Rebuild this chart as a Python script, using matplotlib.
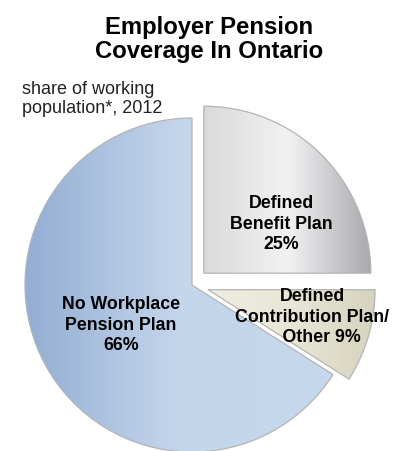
import numpy as np
import matplotlib
matplotlib.use("Agg")
import matplotlib.pyplot as plt
from matplotlib.colors import LinearSegmentedColormap

plt.rcParams['font.family'] = ['Liberation Sans', 'DejaVu Sans']

categories = ["Defined\nBenefit Plan\n25%",
              "Defined\nContribution Plan/\n    Other 9%",
              "No Workplace\nPension Plan\n66%"]
values = [25, 9, 66]
explode = [0.1, 0.1, 0.0]

title = "Employer Pension\nCoverage In Ontario"
subtitle = "share of working\npopulation*, 2012"

# gradient stops (position, colour) per slice
grad_stops = [
    [(0.0, "#dadadc"), (0.5, "#f2f2f3"), (1.0, "#a8a8ad")],
    [(0.0, "#eeede2"), (0.5, "#e8e6d6"), (1.0, "#d6d3bd")],
    [(0.0, "#93aed3"), (0.5, "#c4d6ec"), (1.0, "#c6d8ee")],
]

W, H = 401, 451
fig = plt.figure(figsize=(W / 100, H / 100), dpi=100)
ax = fig.add_axes([0, 0, 1, 1])

cx, cy, R = 192, 285, 167
ax.set_xlim(-cx / R, (W - cx) / R)
ax.set_ylim((cy - H) / R, cy / R)
ax.set_aspect('equal')
ax.axis('off')

wedges, _ = ax.pie(values, explode=explode, startangle=90, counterclock=False,
                   radius=1.0, center=(0, 0),
                   wedgeprops=dict(facecolor='none', edgecolor='#b4b4b4',
                                   linewidth=0.9))

for w, stops in zip(wedges, grad_stops):
    cmap = LinearSegmentedColormap.from_list("g", stops)
    bb = w.get_path().get_extents(w.get_transform()).transformed(ax.transData.inverted())
    x0, y0, x1, y1 = bb.x0, bb.y0, bb.x1, bb.y1
    grad = np.linspace(0, 1, 256).reshape(1, -1)
    im = ax.imshow(grad, cmap=cmap, extent=(x0, x1, y0, y1), aspect='auto',
                   zorder=0.5, interpolation='bicubic')
    im.set_clip_path(w)
    w.set_zorder(1)

ax.set_xlim(-cx / R, (W - cx) / R)
ax.set_ylim((cy - H) / R, cy / R)

label_pos = [(0.533, 0.365), (0.719, -0.192), (-0.425, -0.240)]
for (x, y), lab in zip(label_pos, categories):
    ax.text(x, y, lab, ha='center', va='center', fontsize=12.8, fontweight='bold',
            linespacing=1.24, zorder=3)

fig.text(0.521, 0.912, title, ha='center', va='center', fontsize=17.2,
         fontweight='bold', linespacing=1.05)
fig.text(0.055, 0.780, subtitle, ha='left', va='center', fontsize=13,
         linespacing=1.18, color='#222222')

fig.savefig("out.png", dpi=100)
